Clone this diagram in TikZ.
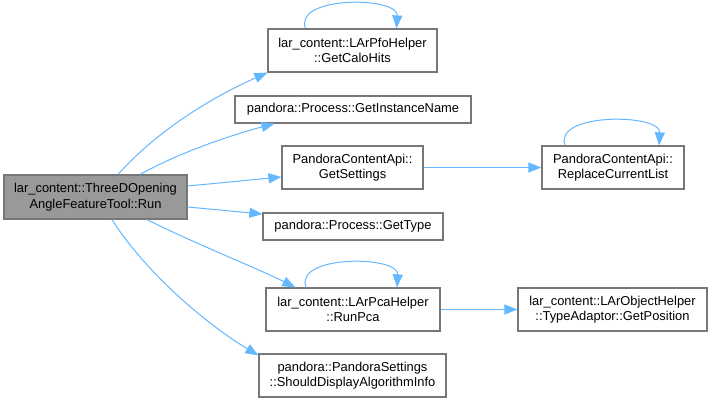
\documentclass[tikz,border=0pt]{standalone}
\usepackage{fontspec}
\setmainfont{Liberation Sans}
\usetikzlibrary{arrows.meta}
\definecolor{edgeblue}{HTML}{63B8FF}
\definecolor{boxline}{HTML}{777777}
\definecolor{mainfill}{HTML}{999999}
\begin{document}
\begin{tikzpicture}[x=1bp,y=-1bp,
  fnbox/.style={draw=boxline,line width=1.2bp,fill=white,align=center,inner sep=0pt,
    font=\fontsize{12.9bp}{15.5bp}\selectfont,text=black},
  calledge/.style={draw=edgeblue,line width=1bp,-{Triangle[length=13bp,width=10bp]}}]
\useasboundingbox (0,0) rectangle (713,403);
\fill[white] (0,0) rectangle (713,403);
% nodes
\node[fnbox,fill=mainfill,minimum width=183bp,minimum height=44bp] (main) at (95.5,197) {lar\_content::ThreeDOpening\\AngleFeatureTool::Run};
\node[fnbox,minimum width=169bp,minimum height=43bp] (calo) at (352.5,50.5) {lar\_content::LArPfoHelper\\::GetCaloHits};
\node[fnbox,minimum width=236bp,minimum height=27bp] (inst) at (353,109.5) {pandora::Process::GetInstanceName};
\node[fnbox,minimum width=141bp,minimum height=43bp] (sett) at (352.5,167.5) {PandoraContentApi::\\GetSettings};
\node[fnbox,minimum width=180bp,minimum height=27bp] (gtype) at (353,226.5) {pandora::Process::GetType};
\node[fnbox,minimum width=174bp,minimum height=43bp] (pca) at (353,309.5) {lar\_content::LArPcaHelper\\::RunPca};
\node[fnbox,minimum width=187bp,minimum height=43bp] (show) at (352.5,375.5) {pandora::PandoraSettings\\::ShouldDisplayAlgorithmInfo};
\node[fnbox,minimum width=142bp,minimum height=43bp] (repl) at (613,167.5) {PandoraContentApi::\\ReplaceCurrentList};
\node[fnbox,minimum width=189bp,minimum height=43bp] (pos) at (612.5,309.5) {lar\_content::LArObjectHelper\\::TypeAdaptor::GetPosition};
% edges
\draw[calledge] ([xshift=22.5bp]main.north) .. controls +(45,-50) and +(-45,20) .. (calo.south west);
\draw[calledge] ([xshift=44.5bp]main.north) .. controls +(40,-22) and +(-45,12) .. ([xshift=40bp]inst.south west);
\draw[calledge] ([yshift=11bp]main.east) -- ([yshift=-9.5bp]sett.west);
\draw[calledge] ([yshift=-10bp]main.east) -- ([yshift=12.5bp]gtype.west);
\draw[calledge] ([xshift=51.5bp]main.south) .. controls +(50,25) and +(-40,-20) .. ([xshift=30bp]pca.north west);
\draw[calledge] ([xshift=16.5bp]main.south) .. controls +(35,55) and +(-50,-30) .. ([yshift=-2bp]show.north west);
\draw[calledge] (sett.east) -- (repl.west);
\draw[calledge] (pca.east) -- (pos.west);
% self loops
\draw[calledge] ([xshift=-47bp]calo.north) .. controls +(-12,-33) and +(2,-32) .. ([xshift=44bp]calo.north);
\draw[calledge] ([xshift=-47bp]pca.north) .. controls +(-12,-33) and +(2,-32) .. ([xshift=44bp]pca.north);
\draw[calledge] ([xshift=-48bp]repl.north) .. controls +(-12,-33) and +(2,-32) .. ([xshift=46bp]repl.north);
\end{tikzpicture}
\end{document}
